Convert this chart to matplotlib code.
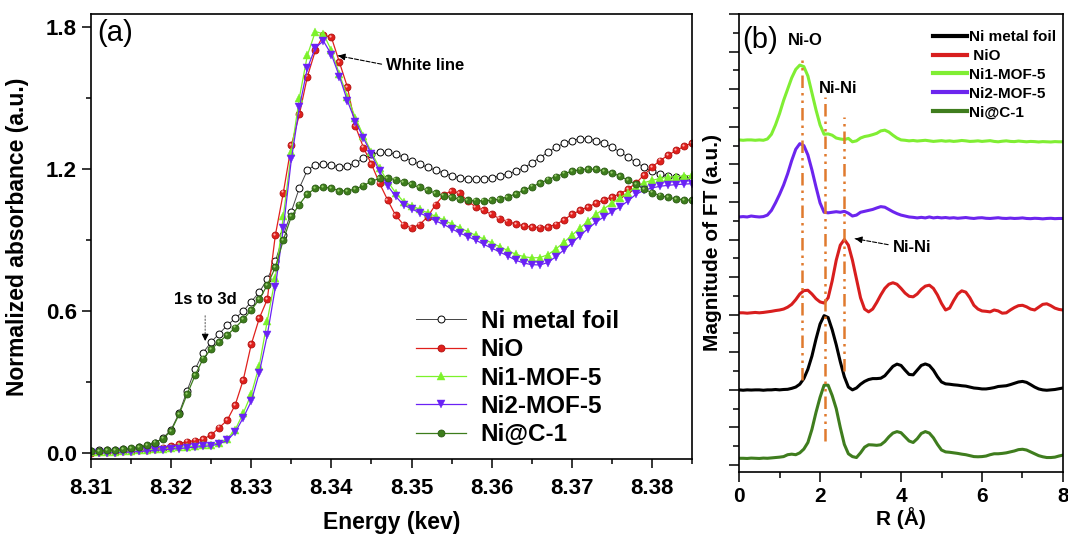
import numpy as np
import matplotlib
matplotlib.use("Agg")
import matplotlib.pyplot as plt
from matplotlib.transforms import ScaledTranslation

plt.rcParams['font.family'] = ['Liberation Sans', 'DejaVu Sans']
plt.rcParams['font.weight'] = 'bold'

# ---------------- (a) Ni K-edge XANES ----------------
energy = np.linspace(8.310, 8.385, 76)  # keV, 1 eV steps

ni_foil = [0.010, 0.012, 0.013, 0.015, 0.017, 0.020, 0.025, 0.032, 0.045, 0.065,
           0.100, 0.170, 0.265, 0.355, 0.425, 0.470, 0.505, 0.540, 0.570, 0.600,
           0.640, 0.680, 0.735, 0.810, 0.920, 1.020, 1.120, 1.195, 1.218, 1.222,
           1.215, 1.210, 1.212, 1.225, 1.245, 1.262, 1.270, 1.270, 1.262, 1.250,
           1.235, 1.220, 1.207, 1.195, 1.183, 1.172, 1.163, 1.158, 1.156, 1.158,
           1.163, 1.170, 1.180, 1.190, 1.205, 1.225, 1.248, 1.270, 1.292, 1.308,
           1.320, 1.328, 1.327, 1.320, 1.308, 1.292, 1.272, 1.250, 1.228, 1.208,
           1.190, 1.178, 1.170, 1.166, 1.163, 1.160]

nio = [0.003, 0.004, 0.005, 0.006, 0.008, 0.010, 0.012, 0.015, 0.019, 0.024,
       0.030, 0.040, 0.049, 0.054, 0.060, 0.078, 0.108, 0.140, 0.205, 0.310,
       0.460, 0.570, 0.650, 0.920, 1.100, 1.300, 1.430, 1.590, 1.700, 1.765,
       1.755, 1.650, 1.545, 1.380, 1.290, 1.220, 1.140, 1.070, 1.005, 0.965,
       0.952, 0.965, 0.998, 1.050, 1.090, 1.108, 1.098, 1.065, 1.040, 1.025,
       1.008, 0.990, 0.978, 0.968, 0.960, 0.955, 0.953, 0.956, 0.965, 0.985,
       1.008, 1.025, 1.040, 1.055, 1.070, 1.082, 1.095, 1.115, 1.140, 1.175,
       1.208, 1.235, 1.258, 1.278, 1.295, 1.310]

ni1_mof5 = [0.004, 0.005, 0.006, 0.007, 0.009, 0.011, 0.013, 0.015, 0.017, 0.020,
            0.023, 0.025, 0.028, 0.031, 0.034, 0.037, 0.045, 0.062, 0.100, 0.170,
            0.250, 0.370, 0.560, 0.740, 1.000, 1.270, 1.500, 1.680, 1.780, 1.770,
            1.700, 1.600, 1.505, 1.415, 1.340, 1.270, 1.205, 1.148, 1.100, 1.062,
            1.045, 1.030, 1.015, 1.000, 0.985, 0.968, 0.952, 0.936, 0.920, 0.904,
            0.888, 0.872, 0.856, 0.840, 0.830, 0.825, 0.826, 0.838, 0.862, 0.890,
            0.920, 0.950, 0.980, 1.008, 1.032, 1.055, 1.078, 1.100, 1.125, 1.142,
            1.152, 1.160, 1.165, 1.168, 1.171, 1.173]

ni2_mof5 = [0.000, 0.001, 0.002, 0.003, 0.004, 0.006, 0.008, 0.010, 0.012, 0.015,
            0.018, 0.020, 0.023, 0.026, 0.029, 0.032, 0.040, 0.055, 0.090, 0.150,
            0.220, 0.340, 0.500, 0.700, 0.950, 1.240, 1.460, 1.625, 1.712, 1.740,
            1.683, 1.590, 1.487, 1.400, 1.330, 1.262, 1.190, 1.130, 1.085, 1.048,
            1.032, 1.015, 0.998, 0.981, 0.966, 0.948, 0.930, 0.915, 0.900, 0.882,
            0.866, 0.850, 0.833, 0.815, 0.803, 0.796, 0.795, 0.805, 0.830, 0.858,
            0.888, 0.918, 0.948, 0.975, 0.998, 1.020, 1.040, 1.065, 1.093, 1.110,
            1.120, 1.127, 1.131, 1.134, 1.136, 1.138]

ni_c1 = [0.008, 0.010, 0.012, 0.014, 0.017, 0.021, 0.027, 0.034, 0.045, 0.062,
         0.095, 0.165, 0.250, 0.330, 0.400, 0.440, 0.470, 0.500, 0.530, 0.565,
         0.605, 0.650, 0.710, 0.785, 0.900, 1.000, 1.050, 1.095, 1.118, 1.124,
         1.118, 1.108, 1.108, 1.115, 1.130, 1.148, 1.160, 1.162, 1.155, 1.145,
         1.135, 1.122, 1.110, 1.098, 1.088, 1.080, 1.073, 1.068, 1.066, 1.066,
         1.068, 1.073, 1.082, 1.095, 1.110, 1.125, 1.140, 1.155, 1.168, 1.180,
         1.190, 1.197, 1.200, 1.198, 1.192, 1.183, 1.170, 1.153, 1.135, 1.115,
         1.100, 1.088, 1.080, 1.074, 1.070, 1.068]

xanes_labels = ['Ni metal foil', 'NiO', 'Ni1-MOF-5', 'Ni2-MOF-5', 'Ni@C-1']

# ---------------- (b) Fourier-transformed EXAFS ----------------
r_dist = np.linspace(0.0, 8.0, 81)  # Angstrom

ft_ni1_mof5 = [17.30, 17.28, 17.30, 17.30, 17.28, 17.30, 17.28, 17.35, 17.60, 18.10,
               18.70, 19.40, 20.00, 20.60, 21.05, 21.28, 21.20, 20.70, 19.80, 18.90,
               18.10, 17.60, 17.62, 17.55, 17.40, 17.35, 17.32, 17.38, 17.20, 17.25,
               17.40, 17.48, 17.52, 17.58, 17.65, 17.78, 17.82, 17.72, 17.55, 17.40,
               17.30, 17.28, 17.25, 17.27, 17.24, 17.26, 17.28, 17.25, 17.22, 17.24,
               17.26, 17.23, 17.25, 17.22, 17.24, 17.27, 17.25, 17.22, 17.23, 17.25,
               17.22, 17.24, 17.26, 17.22, 17.20, 17.23, 17.25, 17.22, 17.21, 17.24,
               17.22, 17.20, 17.22, 17.21, 17.19, 17.21, 17.20, 17.19, 17.21, 17.20,
               17.20]

ft_ni2_mof5 = [13.20, 13.22, 13.20, 13.25, 13.22, 13.20, 13.22, 13.30, 13.55, 13.95,
               14.40, 14.90, 15.50, 16.20, 16.80, 17.10, 17.00, 16.50, 15.70, 14.80,
               13.95, 13.45, 13.42, 13.45, 13.48, 13.45, 13.50, 13.40, 13.25, 13.30,
               13.45, 13.50, 13.55, 13.60, 13.68, 13.75, 13.72, 13.60, 13.48, 13.38,
               13.30, 13.25, 13.20, 13.18, 13.15, 13.18, 13.15, 13.20, 13.15, 13.18,
               13.15, 13.17, 13.14, 13.16, 13.13, 13.15, 13.17, 13.14, 13.12, 13.15,
               13.16, 13.13, 13.12, 13.14, 13.16, 13.13, 13.12, 13.14, 13.12, 13.13,
               13.15, 13.12, 13.11, 13.13, 13.12, 13.10, 13.12, 13.13, 13.11, 13.12,
               13.12]

ft_nio = [8.10, 8.10, 8.08, 8.10, 8.12, 8.10, 8.12, 8.15, 8.18, 8.22,
          8.25, 8.30, 8.40, 8.55, 8.80, 9.10, 9.28, 9.30, 9.10, 8.85,
          8.68, 8.62, 8.90, 9.80, 10.90, 11.70, 12.00, 11.70, 10.90, 9.90,
          8.90, 8.30, 8.15, 8.30, 8.65, 9.05, 9.40, 9.62, 9.70, 9.62,
          9.40, 9.15, 8.98, 8.95, 9.10, 9.35, 9.52, 9.57, 9.40, 9.05,
          8.60, 8.25, 8.35, 8.75, 9.10, 9.27, 9.20, 8.90, 8.50, 8.30,
          8.20, 8.18, 8.15, 8.25, 8.20, 8.08, 8.10, 8.25, 8.38, 8.48,
          8.50, 8.42, 8.30, 8.25, 8.40, 8.55, 8.58, 8.48, 8.35, 8.28,
          8.25]

ft_ni_foil = [4.00, 3.98, 4.00, 3.99, 4.00, 4.00, 3.98, 4.00, 4.00, 4.02,
              4.00, 4.02, 4.03, 4.08, 4.15, 4.30, 4.60, 5.10, 5.80, 6.70,
              7.50, 7.95, 7.85, 7.20, 6.40, 5.50, 4.70, 4.15, 4.00, 4.10,
              4.30, 4.45, 4.55, 4.60, 4.60, 4.62, 4.75, 5.00, 5.25, 5.37,
              5.30, 5.05, 4.82, 4.80, 5.05, 5.30, 5.38, 5.30, 5.05, 4.70,
              4.42, 4.32, 4.30, 4.27, 4.25, 4.22, 4.20, 4.15, 4.10, 4.08,
              4.05, 4.05, 4.08, 4.12, 4.18, 4.20, 4.22, 4.28, 4.35, 4.42,
              4.45, 4.40, 4.28, 4.15, 4.05, 4.00, 3.98, 4.00, 4.02, 4.06,
              4.10]

ft_ni_c1 = [0.36, 0.36, 0.35, 0.37, 0.36, 0.35, 0.37, 0.36, 0.38, 0.40,
            0.42, 0.45, 0.55, 0.58, 0.55, 0.65, 0.85, 1.20, 1.90, 2.80,
            3.60, 4.25, 4.25, 3.70, 3.00, 2.00, 1.10, 0.60, 0.45, 0.40,
            0.65, 0.95, 1.08, 1.07, 1.05, 1.08, 1.25, 1.50, 1.70, 1.78,
            1.72, 1.50, 1.28, 1.20, 1.40, 1.68, 1.78, 1.70, 1.45, 1.10,
            0.80, 0.70, 0.68, 0.65, 0.62, 0.58, 0.55, 0.50, 0.45, 0.44,
            0.45, 0.48, 0.55, 0.60, 0.60, 0.62, 0.65, 0.70, 0.75, 0.82,
            0.84, 0.80, 0.70, 0.60, 0.50, 0.44, 0.40, 0.40, 0.42, 0.48,
            0.53]

ft_labels = ['Ni metal foil', ' NiO', 'Ni1-MOF-5', 'Ni2-MOF-5', 'Ni@C-1']

# guide lines for the Ni-O, Ni-Ni (metal) and Ni-Ni (oxide) shells
shell_r = [1.55, 2.12, 2.59]
shell_top = [21.6, 19.6, 18.5]
shell_bottom = [4.5, 1.3, 5.0]

# ---------------- figure ----------------
fig = plt.figure(figsize=(10.68, 5.34), dpi=100)
ax1 = fig.add_axes([0.0852, 0.1404, 0.5628, 0.8334])
ax2 = fig.add_axes([0.6920, 0.1161, 0.3033, 0.8577])

c_red = '#e0201c'
c_lime = '#7cf22a'
c_purple = '#6a22f5'
c_green = '#3d7d1c'

ms = 5.0

def ball(ax, x, y, face, edge, shine, label, lw_color):
    ax.plot(x, y, '-', color=lw_color, lw=0.9, marker='o', ms=ms, mfc=face,
            mec=edge, mew=0.6, label=label)
    off = ax.transData + ScaledTranslation(-0.9 / 72, 0.9 / 72, fig.dpi_scale_trans)
    ax.plot(x, y, 'o', ms=1.6, color=shine, mew=0, transform=off)

ax1.plot(energy, ni_foil, '-', color='#444444', lw=0.7, marker='o', ms=ms,
         mfc='white', mec='black', mew=0.7, label=xanes_labels[0])
ball(ax1, energy, nio, c_red, '#b01010', '#ffb0b0', xanes_labels[1], c_red)
ax1.plot(energy, ni1_mof5, '-', color=c_lime, lw=0.9, marker='^', ms=ms + 0.5,
         mfc=c_lime, mec=c_lime, mew=0.3, label=xanes_labels[2])
ax1.plot(energy, ni2_mof5, '-', color=c_purple, lw=0.9, marker='v', ms=ms + 0.5,
         mfc=c_purple, mec=c_purple, mew=0.3, label=xanes_labels[3])
ball(ax1, energy, ni_c1, c_green, '#2a5a12', '#9ad070', xanes_labels[4], c_green)

ax1.set_xlim(8.31, 8.385)
ax1.set_ylim(-0.024, 1.854)
ax1.set_xticks([8.31, 8.32, 8.33, 8.34, 8.35, 8.36, 8.37, 8.38])
ax1.set_xticks(np.arange(8.315, 8.386, 0.01), minor=True)
ax1.set_yticks([0.0, 0.6, 1.2, 1.8])
ax1.set_yticks([0.3, 0.9, 1.5], minor=True)
ax1.set_xticklabels(['8.31', '8.32', '8.33', '8.34', '8.35', '8.36', '8.37', '8.38'])
ax1.set_yticklabels(['0.0', '0.6', '1.2', '1.8'])
ax1.tick_params(which='major', direction='out', length=6.5, width=1.1,
                labelsize=16, top=False, right=False)
ax1.tick_params(axis='x', which='major', pad=7)
ax1.tick_params(which='minor', direction='out', length=3.4, width=1.1,
                top=False, right=False)
ax1.set_xlabel('Energy (kev)', fontsize=16.5, fontweight='bold', labelpad=9)
ax1.set_ylabel('Normalized absorbance (a.u.)', fontsize=16.5, fontweight='bold', labelpad=12)
for s in ax1.spines.values():
    s.set_linewidth(1.2)

ax1.text(0.01, 0.957, '(a)', transform=ax1.transAxes, fontsize=21,
         fontweight='normal', ha='left', va='center')

# white line callout
ax1.annotate('', xy=(8.3405, 1.680), xytext=(8.3466, 1.640),
             arrowprops=dict(arrowstyle='-', ls='--', lw=0.8, color='black'))
ax1.annotate('', xy=(8.3405, 1.680), xytext=(8.3418, 1.672),
             arrowprops=dict(arrowstyle='-|>', lw=0.8, color='black',
                             mutation_scale=10))
ax1.text(8.3468, 1.637, 'White line', fontsize=12, fontweight='bold',
         ha='left', va='center')

# pre-edge callout: dotted grey shaft, solid black head
ax1.text(8.32425, 0.650, '1s to 3d', fontsize=12, fontweight='bold',
         ha='center', va='center')
ax1.annotate('', xy=(8.32425, 0.480), xytext=(8.32425, 0.592),
             arrowprops=dict(arrowstyle='-', ls=':', lw=0.9, color='#777777'))
ax1.annotate('', xy=(8.32425, 0.462), xytext=(8.32425, 0.500),
             arrowprops=dict(arrowstyle='-|>', lw=0.8, color='black',
                             mutation_scale=10))

leg1 = ax1.legend(loc='upper left', bbox_to_anchor=(0.541, 0.335), frameon=False,
                  fontsize=17.5, handlelength=2.05, handletextpad=0.6,
                  labelspacing=0.22, borderpad=0, borderaxespad=0, numpoints=1)
for t in leg1.get_texts():
    t.set_fontweight('bold')

# ---------------- (b) ----------------
ax2.plot(r_dist, ft_ni_foil, color='black', lw=2.2, label=ft_labels[0])
ax2.plot(r_dist, ft_nio, color='#d81e1e', lw=2.2, label=ft_labels[1])
ax2.plot(r_dist, ft_ni1_mof5, color='#80ee33', lw=2.2, label=ft_labels[2])
ax2.plot(r_dist, ft_ni2_mof5, color='#6c25ee', lw=2.2, label=ft_labels[3])
ax2.plot(r_dist, ft_ni_c1, color='#3f7d1e', lw=2.2, label=ft_labels[4])

for r, y0, y1 in zip(shell_r, shell_bottom, shell_top):
    ax2.plot([r, r], [y0, y1], color='#e07a2e', lw=1.8, ls=(0, (5, 2, 1, 2, 1, 2)))

ax2.set_xlim(0, 8)
ax2.set_ylim(-0.37, 24.0)
ax2.set_xticks([0, 2, 4, 6, 8])
ax2.set_xticks([1, 3, 5, 7], minor=True)
ax2.set_yticks(np.arange(0, 24.1, 2))
ax2.set_yticks(np.arange(1, 24, 2), minor=True)
ax2.set_yticklabels([])
ax2.tick_params(which='major', direction='out', length=7, width=1.1,
                labelsize=15, top=False, right=False)
ax2.tick_params(which='minor', direction='out', length=4, width=1.1,
                top=False, right=False)
ax2.set_xlabel('R (Å)', fontsize=15, fontweight='bold', labelpad=1)
ax2.set_ylabel('Magnitude of FT (a.u.)', fontsize=15, fontweight='bold', labelpad=2)
for s in ax2.spines.values():
    s.set_linewidth(1.2)

ax2.text(0.07, 22.6, '(b)', fontsize=21, fontweight='normal', ha='left', va='center')
ax2.text(1.63, 22.6, 'Ni-O', fontsize=12, fontweight='bold', ha='center', va='center')
ax2.text(2.44, 20.05, 'Ni-Ni', fontsize=12, fontweight='bold', ha='center', va='center')
ax2.text(3.80, 11.55, 'Ni-Ni', fontsize=12, fontweight='bold', ha='left', va='center')
ax2.annotate('', xy=(2.80, 12.07), xytext=(3.75, 11.70),
             arrowprops=dict(arrowstyle='-', ls='--', lw=0.8, color='black'))
ax2.annotate('', xy=(2.80, 12.07), xytext=(3.05, 11.98),
             arrowprops=dict(arrowstyle='-|>', lw=0.8, color='black',
                             mutation_scale=10))

leg2 = ax2.legend(loc='upper left', bbox_to_anchor=(0.600, 0.965), frameon=False,
                  fontsize=11, handlelength=2.2, handletextpad=0.1,
                  labelspacing=0.32, borderpad=0, borderaxespad=0)
for t in leg2.get_texts():
    t.set_fontweight('bold')
for h in leg2.get_lines():
    h.set_linewidth(3)

fig.savefig('out.png', dpi=100)
